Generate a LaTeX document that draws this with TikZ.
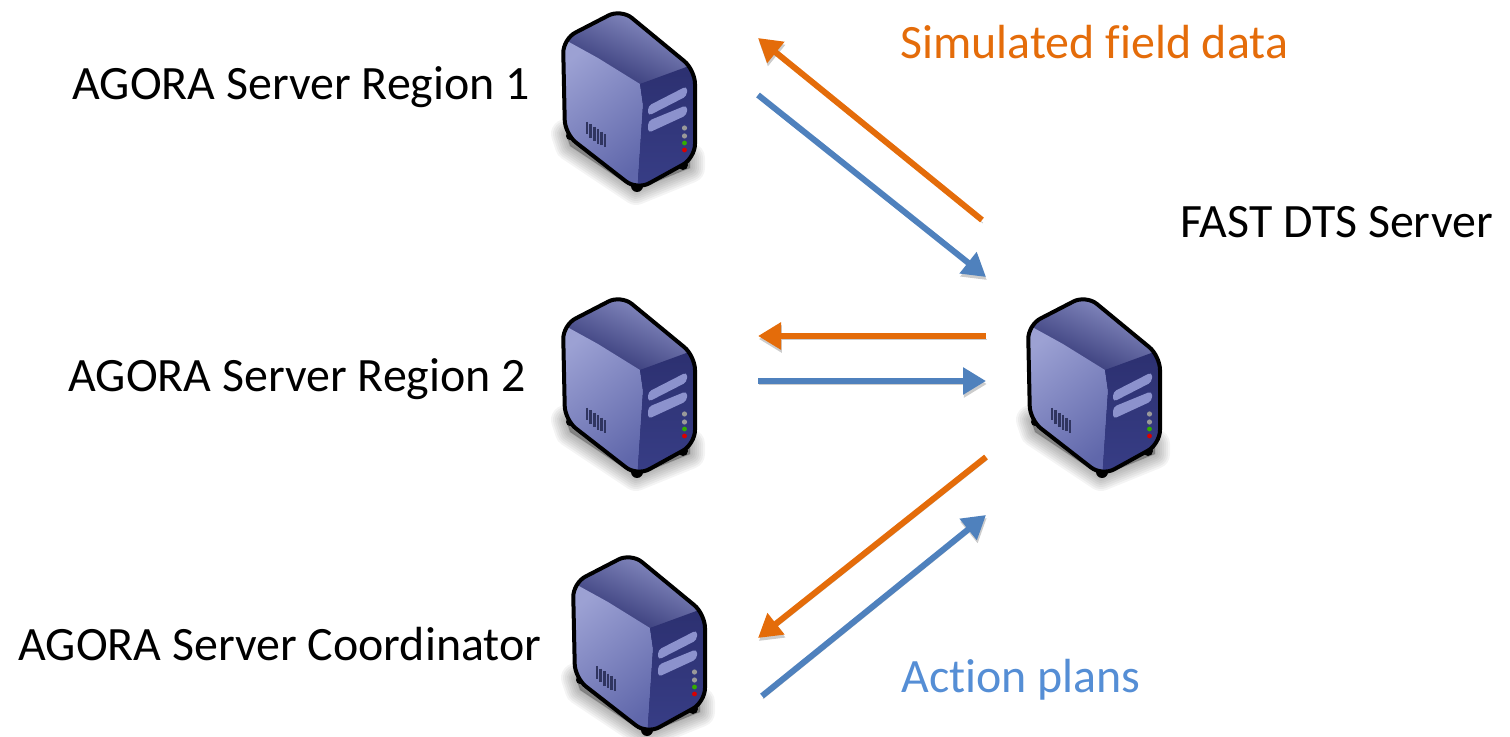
\documentclass[tikz,border=0pt]{standalone}
\usepackage{fontspec}
\setmainfont[Ligatures=NoCommon]{Carlito}
\usetikzlibrary{arrows.meta}
\definecolor{orangeline}{RGB}{228,108,10}
\definecolor{blueline}{RGB}{79,129,189}
\definecolor{blueword}{RGB}{85,142,213}
\definecolor{sideA}{RGB}{160,165,214}
\definecolor{sideB}{RGB}{80,88,160}
\definecolor{frontA}{RGB}{44,48,112}
\definecolor{frontB}{RGB}{56,62,135}
\definecolor{slot}{RGB}{140,146,205}
\tikzset{
  label text/.style={inner sep=0pt,anchor=base west,font=\fontsize{23.95pt}{28pt}\selectfont},
  link/.style={line width=3pt,-{Triangle[length=11.5pt,width=13pt]},
    preaction={draw=black!20,transform canvas={xshift=0.4pt,yshift=-1.5pt}}},
  orange link/.style={link,draw=orangeline,color=orangeline},
  blue link/.style={link,draw=blueline,color=blueline},
  pics/server/.style={code={
    % soft shadow
    \foreach \w in {30,26,22,18,14,10,6,2}{
      \fill[black,opacity=.045,draw=black,line width=\w*0.5pt,line join=round]
        (26,134)--(30,146)--(96,190)--(150,168)--(150,158)--cycle;}
    % feet
    \fill[black] (97,186) circle (6);
    \fill[black] (30,136) circle (4);
    \fill[black] (143,165) circle (5);
    \begin{scope}
      \clip[rounded corners=7pt] (81,9)--(23,39)--(25,134)--(97,190)--(155,158)--(155,70)--cycle;
      \fill[frontA] (0,0) rectangle (170,200);
      \shade[left color=sideA!90!sideB,right color=frontA,shading angle=-25] (81,5)--(18,38)--(58,58)--(100,84)--(160,66)--cycle;
      \shade[left color=sideA!95!sideB,right color=sideB!80!sideA,shading angle=40] (18,36)--(18,138)--(97,195)--(103,105)--(100,84)--(58,58)--cycle;
      \shade[top color=frontA,bottom color=frontB] (100,84)--(103,105)--(97,195)--(160,165)--(160,62)--cycle;
    \end{scope}
    \draw[black,line width=2pt,rounded corners=7pt,line join=round]
      (81,9)--(23,39)--(25,134)--(97,190)--(155,158)--(155,70)--cycle;
    % slots
    \fill[slot,rounded corners=2pt] (108,106)--(147,86)--(147,96)--(108,116)--cycle;
    \fill[slot,rounded corners=2pt] (108,121)--(147,105)--(147,115)--(108,133)--cycle;
    % lamps
    \fill[black!40] (144.5,128) circle (2.6);
    \fill[black!40] (144.5,136) circle (2.6);
    \fill[green!60!black!80!yellow] (144.5,143) circle (2.4);
    \fill[red!85!black] (144.5,150) circle (2.4);
    % vent
    \foreach \i in {0,...,5}{
      \draw[sideB!60!black,line width=1.3pt] ({47+\i*3.6},{122+\i*2.5})--++(0,{15-abs(\i-2.5)});}
  }}
}
\begin{document}
\begin{tikzpicture}[x=0.5pt,y=-0.5pt]
\useasboundingbox (0,0) rectangle (1510,737);
\pic at (540,0) {server};
\pic at (540,286) {server};
\pic at (550,544) {server};
\pic at (1005,286) {server};
\node[label text] (r1) at (72,100) {AGORA Server Region 1};
\node[label text] (r2) at (68,392) {AGORA Server Region 2};
\node[label text] (rc) at (18,660) {AGORA Server Coordinator};
\node[label text] (fast) at (1180,238) {FAST DTS Server};
\node[label text,text=orangeline] (sim) at (900,59) {Simulated field data};
\node[label text,text=blueword] (act) at (901,692) {Action plans};
\coordinate (oa1) at (982,220); \coordinate (oa2) at (758,38);
\coordinate (ba1) at (758,95); \coordinate (ba2) at (986,277);
\coordinate (ob1) at (986,336); \coordinate (ob2) at (758,336);
\coordinate (bb1) at (758,381); \coordinate (bb2) at (986,381);
\coordinate (oc1) at (986,457); \coordinate (oc2) at (758,638);
\coordinate (bc1) at (762,696); \coordinate (bc2) at (986,515);
\draw[orange link] (oa1)--(oa2);
\draw[blue link] (ba1)--(ba2);
\draw[orange link] (ob1)--(ob2);
\draw[blue link] (bb1)--(bb2);
\draw[orange link] (oc1)--(oc2);
\draw[blue link] (bc1)--(bc2);
\end{tikzpicture}
\end{document}
